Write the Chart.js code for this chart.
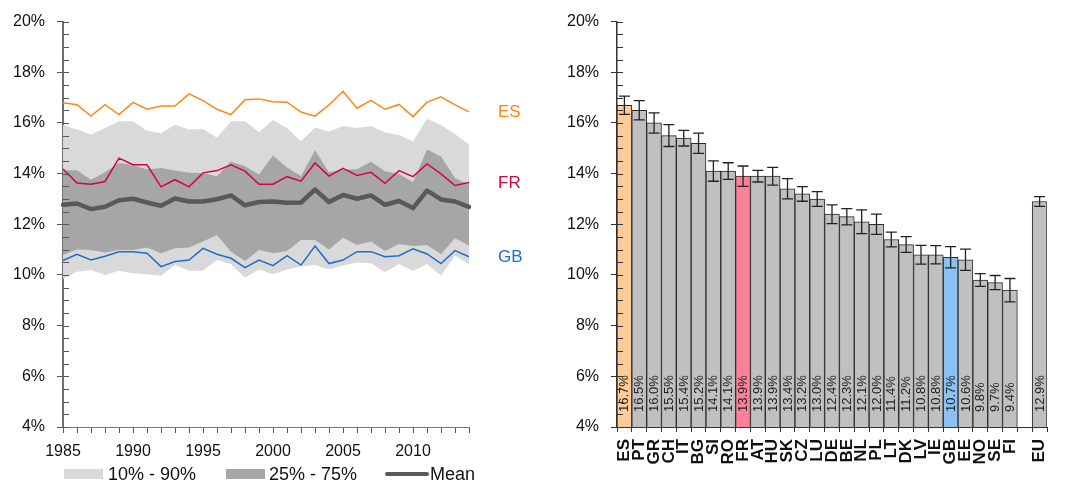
<!DOCTYPE html>
<html><head><meta charset="utf-8">
<script src="https://cdn.jsdelivr.net/npm/chart.js@4.4.1/dist/chart.umd.min.js"></script>
<style>
html,body{margin:0;padding:0;background:#fff;width:1067px;height:482px;overflow:hidden}
#w1{position:absolute;left:0;top:0;width:540px;height:482px}
#w2{position:absolute;left:540px;top:0;width:527px;height:482px}
</style></head><body>
<div id="w1"><canvas id="c1"></canvas></div>
<div id="w2"><canvas id="c2"></canvas></div>
<script>
// ---------- Left chart data ----------
const years = [1985,1986,1987,1988,1989,1990,1991,1992,1993,1994,1995,1996,1997,1998,1999,2000,2001,2002,2003,2004,2005,2006,2007,2008,2009,2010,2011,2012,2013,2014];
const p90 = [15.92,15.74,15.54,15.80,16.07,16.07,15.69,15.59,15.93,15.74,15.76,15.42,16.07,16.07,15.63,16.12,15.80,15.28,15.82,15.65,15.88,15.80,15.88,15.62,15.52,15.28,16.17,15.92,15.56,15.15];
const p75 = [14.13,14.13,13.76,14.05,14.42,14.34,14.16,14.22,14.12,14.03,14.01,13.90,14.48,14.29,13.97,14.72,14.24,13.91,14.92,14.05,14.16,14.17,14.47,14.09,13.99,13.66,14.95,14.68,13.83,13.56];
const p25 = [10.79,11.01,10.99,10.89,10.99,10.99,11.08,10.86,11.05,11.08,11.32,11.58,10.92,10.55,10.99,10.86,10.95,11.38,11.38,11.01,11.47,11.18,11.32,10.95,11.22,11.14,11.18,10.82,11.45,11.16];
const p10 = [9.84,10.13,10.20,10.00,10.17,10.07,10.03,9.97,10.39,10.17,10.17,10.59,10.42,9.89,10.22,10.03,10.22,10.33,10.39,10.22,10.37,10.49,10.46,10.11,10.43,10.16,10.43,9.97,10.76,10.42];
const meanShare = [12.77,12.82,12.60,12.69,12.95,13.01,12.86,12.73,13.02,12.90,12.90,12.99,13.14,12.75,12.88,12.90,12.85,12.86,13.37,12.88,13.16,13.01,13.14,12.77,12.92,12.64,13.33,12.98,12.90,12.69];
const esShare = [16.80,16.72,16.27,16.72,16.33,16.81,16.54,16.67,16.67,17.15,16.88,16.54,16.33,16.92,16.95,16.84,16.82,16.43,16.27,16.71,17.25,16.58,16.89,16.54,16.73,16.25,16.82,17.03,16.71,16.44];
const frShare = [14.18,13.63,13.58,13.69,14.61,14.35,14.35,13.48,13.76,13.48,14.03,14.12,14.35,14.10,13.58,13.58,13.88,13.70,14.42,13.90,14.21,13.93,14.05,13.62,14.12,13.88,14.38,13.99,13.53,13.65];
const gbShare = [10.57,10.82,10.59,10.74,10.92,10.92,10.86,10.33,10.53,10.59,11.05,10.82,10.66,10.29,10.59,10.37,10.76,10.39,11.14,10.45,10.59,10.92,10.92,10.72,10.76,11.03,10.83,10.45,10.96,10.72];
const legendLabels = ['10% - 90%','25% - 75%','Mean'];

// ---------- Right chart data ----------
const countries = ['ES','PT','GR','CH','IT','BG','SI','RO','FR','AT','HU','SK','CZ','LU','DE','BE','NL','PL','LT','DK','LV','IE','GB','EE','NO','SE','FI','','EU'];
const shares    = [16.7,16.5,16.0,15.5,15.4,15.2,14.1,14.1,13.9,13.9,13.9,13.4,13.2,13.0,12.4,12.3,12.1,12.0,11.4,11.2,10.8,10.8,10.7,10.6,9.8,9.7,9.4,null,12.9];
const errors    = [0.36,0.38,0.40,0.43,0.31,0.40,0.40,0.33,0.40,0.23,0.35,0.40,0.29,0.29,0.37,0.32,0.47,0.40,0.29,0.31,0.37,0.36,0.42,0.42,0.25,0.28,0.46,null,0.19];

const yMin = 4, yMax = 20, yStep = 2, yMinor = 0.5;

Chart.defaults.font.family = '"Liberation Sans", Arial, Helvetica, sans-serif';
Chart.defaults.color = '#111';
Chart.defaults.animation = false;

const ORANGE = '#ff8614', RED = '#d4063b', BLUE = '#1e6dcc';

function minorTicks(chart, color) {
  const s = chart.scales.y, ctx = chart.ctx, x = s.right;
  ctx.save(); ctx.strokeStyle = color; ctx.lineWidth = 1;
  for (let v = yMin; v <= yMax + 1e-9; v += yMinor) {
    const y = Math.round(s.getPixelForValue(v)) + 0.5;
    ctx.beginPath(); ctx.moveTo(x, y); ctx.lineTo(x + 6, y); ctx.stroke();
  }
  ctx.restore();
}

const leftPlugin = {
  id: 'leftDecor',
  afterDatasetsDraw(chart) {
    const ctx = chart.ctx, ys = chart.scales.y, area = chart.chartArea;
    const last = years.length - 1;
    const tags = [['ES', esShare[last], ORANGE], ['FR', frShare[last], RED], ['GB', gbShare[last], BLUE]];
    ctx.save();
    ctx.font = '17px "Liberation Sans", Arial, sans-serif';
    ctx.textBaseline = 'middle'; ctx.textAlign = 'left';
    tags.forEach(([t, v, c]) => { ctx.fillStyle = c; ctx.fillText(t, area.right + 29, ys.getPixelForValue(v) + 1); });
    ctx.restore();
  },
  afterDraw(chart) {
    minorTicks(chart, '#555');
    // legend
    const ctx = chart.ctx, L = chart.chartArea.left, y = 474;
    ctx.save();
    ctx.font = '18px "Liberation Sans", Arial, sans-serif';
    ctx.textBaseline = 'middle'; ctx.textAlign = 'left';
    ctx.fillStyle = '#d9d9d9'; ctx.fillRect(L + 1, y - 5, 39, 10);
    ctx.fillStyle = '#111'; ctx.fillText(legendLabels[0], L + 45, y + 1);
    ctx.fillStyle = '#a6a6a6'; ctx.fillRect(L + 163, y - 5, 39, 10);
    ctx.fillStyle = '#111'; ctx.fillText(legendLabels[1], L + 206, y + 1);
    ctx.strokeStyle = '#595959'; ctx.lineWidth = 4; ctx.lineCap = 'round';
    ctx.beginPath(); ctx.moveTo(L + 324, y); ctx.lineTo(L + 364, y); ctx.stroke();
    ctx.fillStyle = '#111'; ctx.fillText(legendLabels[2], L + 367, y + 1);
    ctx.restore();
  }
};

const lineDs = (data, color, width, order, extra) => Object.assign({
  data, borderColor: color, borderWidth: width, pointRadius: 0, tension: 0, fill: false, order
}, extra || {});

new Chart(document.getElementById('c1'), {
  type: 'line',
  data: {
    labels: years,
    datasets: [
      lineDs(p90, 'transparent', 0, 4, { fill: 1, backgroundColor: '#d9d9d9' }),
      lineDs(p10, 'transparent', 0, 4),
      lineDs(p75, 'transparent', 0, 3, { fill: 3, backgroundColor: '#a6a6a6' }),
      lineDs(p25, 'transparent', 0, 3),
      lineDs(meanShare, '#595959', 4.5, 2, { borderJoinStyle: 'round', borderCapStyle: 'round' }),
      lineDs(esShare, ORANGE, 1.5, 1),
      lineDs(frShare, RED, 1.5, 1),
      lineDs(gbShare, BLUE, 1.5, 1)
    ]
  },
  options: {
    responsive: true, maintainAspectRatio: false,
    layout: { padding: { top: 18, right: 71, bottom: 0, left: 0 } },
    plugins: { legend: { display: false }, tooltip: { enabled: false } },
    scales: {
      x: {
        type: 'category', offset: false,
        afterFit(s) { s.height = 55; },
        grid: { drawOnChartArea: false, tickLength: 6, tickColor: '#555' },
        border: { color: '#777', width: 1 },
        ticks: { autoSkip: false, maxRotation: 0, minRotation: 0, padding: 9, font: { size: 16 },
          callback(v, i) { return years[i] % 5 === 0 ? String(years[i]) : ''; } }
      },
      y: {
        min: yMin, max: yMax,
        afterFit(s) { s.width = 63; },
        grid: { drawOnChartArea: false, tickLength: 6, tickColor: '#555' },
        border: { color: '#707070', width: 2 },
        ticks: { stepSize: yStep, padding: 12, font: { size: 16 }, callback: v => v + '%' }
      }
    }
  },
  plugins: [leftPlugin]
});

// ---------- Right chart ----------
const barColors = countries.map(c => c === 'ES' ? '#ffcc99' : c === 'FR' ? '#ff8099' : c === 'GB' ? '#8cc1f4' : '#c0c0c0');

const rightPlugin = {
  id: 'rightDecor',
  afterDatasetsDraw(chart) {
    const ctx = chart.ctx, ys = chart.scales.y, meta = chart.getDatasetMeta(0);
    ctx.save();
    ctx.strokeStyle = '#222'; ctx.lineWidth = 1.3;
    meta.data.forEach((bar, i) => {
      if (shares[i] == null) return;
      const x = bar.x, yt = ys.getPixelForValue(shares[i] + errors[i]), yb = ys.getPixelForValue(shares[i] - errors[i]);
      ctx.beginPath();
      ctx.moveTo(x, yt); ctx.lineTo(x, yb);
      ctx.moveTo(x - 5.5, yt); ctx.lineTo(x + 5.5, yt);
      ctx.moveTo(x - 5.5, yb); ctx.lineTo(x + 5.5, yb);
      ctx.stroke();
    });
    ctx.font = '13px "Liberation Sans", Arial, sans-serif';
    ctx.fillStyle = '#222'; ctx.textAlign = 'left'; ctx.textBaseline = 'middle';
    meta.data.forEach((bar, i) => {
      if (shares[i] == null) return;
      ctx.save();
      ctx.translate(bar.x + 0.5, ys.getPixelForValue(yMin) - 15);
      ctx.rotate(-Math.PI / 2);
      ctx.fillText(shares[i].toFixed(1) + '%', 0, 0);
      ctx.restore();
    });
    ctx.restore();
  },
  afterDraw(chart) { minorTicks(chart, '#333'); }
};

new Chart(document.getElementById('c2'), {
  type: 'bar',
  data: {
    labels: countries,
    datasets: [{
      data: shares, backgroundColor: barColors, borderColor: '#2a2a2a', borderWidth: 1,
      barPercentage: 1, categoryPercentage: 1, borderSkipped: 'bottom'
    }]
  },
  options: {
    responsive: true, maintainAspectRatio: false,
    layout: { padding: { top: 18, right: 0, bottom: 0, left: 0 } },
    plugins: { legend: { display: false }, tooltip: { enabled: false } },
    scales: {
      x: {
        type: 'category', offset: true,
        afterFit(s) { s.height = 55; },
        grid: { offset: true, drawOnChartArea: false, tickLength: 5, tickColor: '#333' },
        border: { color: '#333', width: 1 },
        ticks: { autoSkip: false, maxRotation: 90, minRotation: 90, padding: 7, color: '#111',
          font: { size: 17, weight: 'bold' } }
      },
      y: {
        min: yMin, max: yMax,
        afterFit(s) { s.width = 77; },
        grid: { drawOnChartArea: false, tickLength: 6, tickColor: '#333' },
        border: { color: '#333', width: 1.5 },
        ticks: { stepSize: yStep, padding: 12, font: { size: 16 }, callback: v => v + '%' }
      }
    }
  },
  plugins: [rightPlugin]
});
</script>
</body></html>
